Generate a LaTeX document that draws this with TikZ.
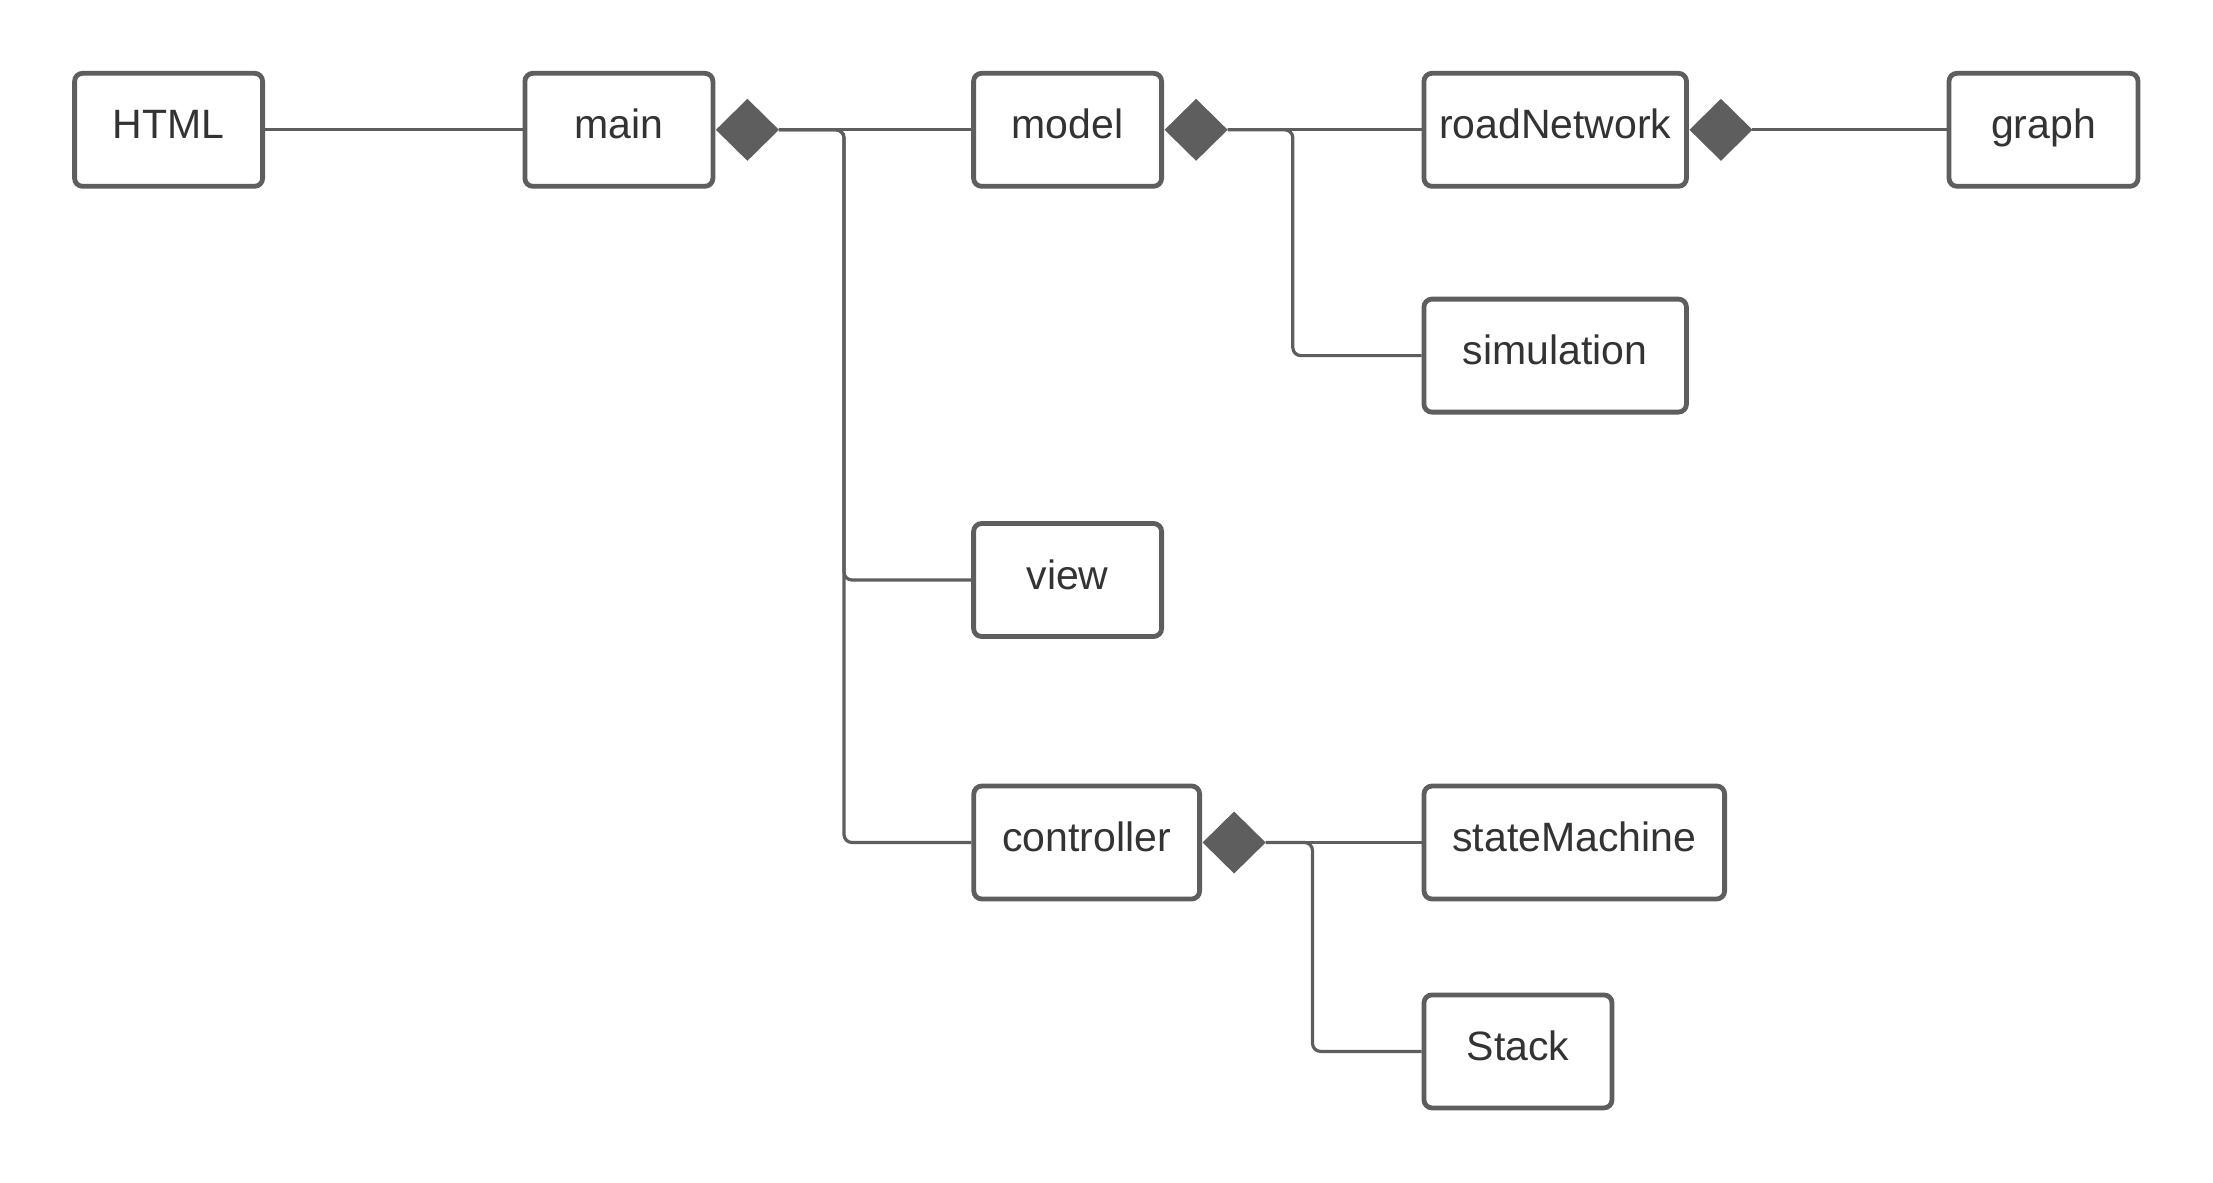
\documentclass[tikz,border=0pt]{standalone}
\usepackage{fontspec}
\setmainfont{Liberation Sans}
\usetikzlibrary{shapes.geometric}
\definecolor{lc}{HTML}{5E5E5E}
\definecolor{tc}{HTML}{333333}
\tikzset{
  box/.style={draw=lc, line width=2.4pt, rounded corners=4pt, fill=white,
    minimum height=56.5pt, inner sep=0pt, text=tc, text height=15pt, text depth=5.9pt,
    font=\fontsize{20.5}{24}\selectfont},
  comp/.style={diamond, fill=lc, draw=none, minimum width=31.5pt, minimum height=31pt,
    inner sep=0pt, outer sep=0pt, anchor=west},
  conn/.style={draw=lc, line width=1.6pt, rounded corners=4pt}
}
\begin{document}
\begin{tikzpicture}[x=0.5pt,y=-0.5pt]
\useasboundingbox (0,0) rectangle (2213,1183);
\node[box, minimum width=94pt] (html) at (168.6,129.8) {HTML};
\node[box, minimum width=94pt] (main) at (618.9,129.8) {main};
\node[box, minimum width=94pt] (model) at (1067.6,129.8) {model};
\node[box, minimum width=131.25pt] (road) at (1555.2,129.8) {roadNetwork};
\node[box, minimum width=94.5pt] (graph) at (2043.5,129.8) {graph};
\node[box, minimum width=131.25pt] (sim) at (1555.2,355.6) {simulation};
\node[box, minimum width=94pt] (view) at (1067.6,580) {view};
\node[box, minimum width=112.9pt] (ctrl) at (1086.7,842.5) {controller};
\node[box, minimum width=150.3pt] (sm) at (1574.3,842.5) {stateMachine};
\node[box, minimum width=94pt] (stack) at (1518,1051.4) {Stack};

\node[comp] (dmain) at ([xshift=0.3pt]main.east) {};
\node[comp] (dmodel) at ([xshift=0.3pt]model.east) {};
\node[comp] (droad) at ([xshift=0.3pt]road.east) {};
\node[comp] (dctrl) at ([xshift=0.3pt]ctrl.east) {};

\coordinate (b1) at (844,129.8);
\coordinate (b2) at (1292.8,129.8);
\coordinate (b3) at (1312.5,842.5);

\draw[conn] (html.east) -- (main.west);
\draw[conn] (dmain.east) -- (model.west);
\draw[conn] (dmain.east) -- (b1) |- (view.west);
\draw[conn] (dmain.east) -- (b1) |- (ctrl.west);
\draw[conn] (dmodel.east) -- (road.west);
\draw[conn] (dmodel.east) -- (b2) |- (sim.west);
\draw[conn] (droad.east) -- (graph.west);
\draw[conn] (dctrl.east) -- (sm.west);
\draw[conn] (dctrl.east) -- (b3) |- (stack.west);
\end{tikzpicture}
\end{document}
